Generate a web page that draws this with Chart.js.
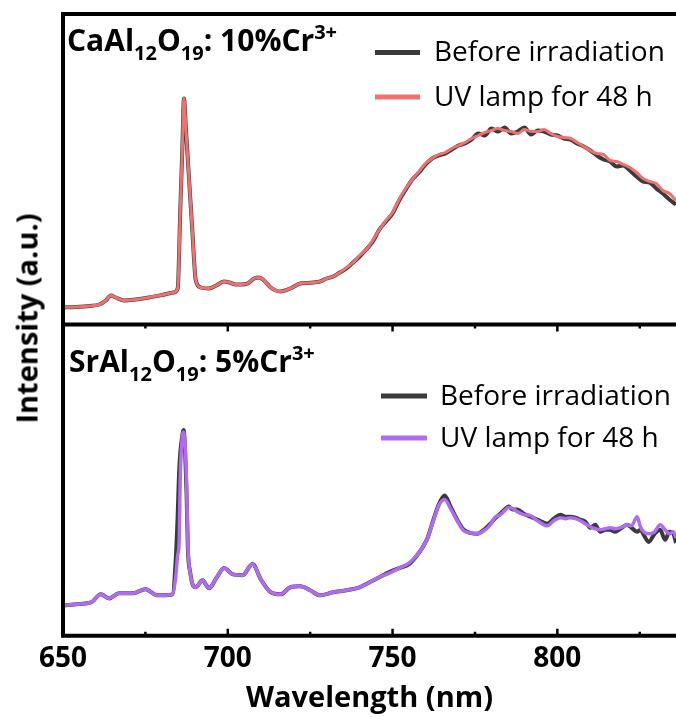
<!DOCTYPE html>
<html><head><meta charset="utf-8">
<script src="https://cdn.jsdelivr.net/npm/chart.js@4.4.1/dist/chart.umd.min.js"></script>
<style>
html,body{margin:0;padding:0;background:#fff;width:676px;height:717px;overflow:hidden;font-family:'Open Sans',sans-serif;}
#wrap{position:relative;width:676px;height:717px;}
canvas{position:absolute;left:0;}
#c1{top:0;}
#c2{top:320px;}
.ttl{position:absolute;font-weight:bold;font-size:30px;line-height:30px;white-space:nowrap;color:#000;}
.ttl .sb{font-size:20px;position:relative;top:9px;}
.ttl .sp{font-size:20px;position:relative;top:-12px;}
#ylab{position:absolute;width:300px;height:29px;left:-124.3px;top:303.5px;font-weight:bold;font-size:29px;line-height:29px;text-align:center;transform:rotate(-90deg);transform-origin:50% 50%;white-space:nowrap;color:#000;}
</style></head>
<body><div id="wrap">
<canvas id="c1" width="676" height="330"></canvas>
<canvas id="c2" width="676" height="397"></canvas>
<div class="ttl" style="left:67px;top:25.4px">CaAl<span class="sb">12</span>O<span class="sb">19</span>: 10%Cr<span class="sp">3+</span></div>
<div class="ttl" style="left:69px;top:346.4px">SrAl<span class="sb">12</span>O<span class="sb">19</span>: 5%Cr<span class="sp">3+</span></div>
<div id="ylab">Intensity (a.u.)</div>
</div>
<script>
// ---- data ----
const seriesLabels = ['Before irradiation', 'UV lamp for 48 h'];
const majorTicks = [650, 700, 750, 800];
const minorTicks = [675, 725, 775, 825];

const caWl = [650,654,658,661,663,664.5,666,668.5,672,676,680,683.6,684.8,685.6,686.2,686.7,687.3,688.2,689.2,690.3,691.8,694.2,696.5,698.8,700.5,702.4,704,706,708,709.5,711,713,716,719,722,724,726,728,730,732,734,736,738,740,742,744,746,748,750,752,754,756,758,760,762,764,766,768,770,772,774,776,778,780,782,784,786,788,790,792,794,796,798,800,802,804,806,808,810,812,814,816,818,820,822,824,826,828,830,832,834,836];
const caBefore = [17,17.5,18.5,20,24, 29,27,24,25,27, 29.5,32,36,116,175, 226,195,148,96,44, 37,36,39,43,42, 40,40,41,46,47, 44,37,33,36,41, 41.5,42,43,46,48, 52,56,62,68,75, 83,95,103,111,124, 135,145,152,160,166, 169,171,175,179,181, 185,191,189,196,193, 197,191,193,197,190, 194,193,190,189,186, 185,181,178,174,169, 165,163,158,159,154, 148,143,142,136,131, 125,120];
const caUV = [17,17.5,18.5,20,24, 29,27,24,25,27, 29.5,32,36,116,175, 226,195,148,96,44, 37,36,39,43,42, 40,40,41,46,47, 44,37,33,36,41, 41.5,42,43,46,48, 52,57,62,69,75, 84,95,104,112,125, 136,145,153,161,166, 170,172,176,179,182, 186,189,192,194,196, 194,193,191,195,193, 193,195,191,188,187, 186,182,178,174,171, 170,164,163,160,157, 152,146,143,141,134, 131,124];

const srWl = [650,655,658.5,661.5,664, 667,671,675,678.7,681, 683.2,684.2,684.8,685.2,685.6, 686.1,686.6,687.1,687.5,687.9, 688.6,689.3,690.3,692.3,694.3, 696.5,698.9,701.4,704.5,707.5, 710,713,716,719,722, 725,728,732,736,740, 743,746,749,752,755, 757.5,759,760.5,762.5,764, 765.8,767.6,769.6,771.6,773.6, 775.7,777.7,779.7,781,782.7, 784,785.2,786.5,787.8,789.8, 791.8,794,796.9,798.9,800.9, 802.5,803.9,805.5,807,808.5, 810,811.5,813,814.5,816, 817.5,819.1,820,821.1,822.5, 824.2,825.2,826.2,827.7,829.5, 831.2,832.7,834,835.2,836];
const srBefore = [30,31.5,33,41,37, 42,42,46,40,40, 41,75,120,160,182, 196,204,178,140,85, 63,51,48,55,47, 57,67,61,60,71, 56,43,41,48,49, 45,40,43,45,48, 53,58,63,67,71, 80,87,96,116,130, 139,128,115,105,102, 101,105,111,116,121, 125,128,125,125,121, 118,115,111,116,120, 118,118,117,115,113, 107,110,103,105,105, 103,106,108,110,107, 103,105,100,93,101, 105,95,103,101,92];
const srUV = [30,31.5,33,41,37, 42,42,46,40,40, 41,58,80,90,160, 193,202,185,150,90, 62,51,48,55,47, 57,67,61,60,71, 56,43,41,48,49, 45,40,43,45,48, 53,58,62,67,72, 80,87,96,115,129, 135,126,114,104,102, 101,104,110,117,120, 124,127,126,123,120, 119,114,109,114,117, 116,117,116,114,111, 108,106,105,106,107, 106,107,108,110,109, 118,108,103,101,103, 110,105,101,103,97];

const pts = (xs, ys) => xs.map((x, i) => ({x: x, y: ys[i]}));

// ---- plugins ----
const framePlugin = {
  id: 'frame',
  afterDraw(chart, args, o) {
    const ctx = chart.ctx, a = chart.chartArea, x = chart.scales.x;
    ctx.save();
    ctx.strokeStyle = '#000';
    ctx.lineWidth = 4;
    ctx.beginPath();
    ctx.moveTo(a.left, o.top ? a.top - 2 : a.top);
    ctx.lineTo(a.left, o.bottom ? a.bottom + 2 : a.bottom);
    if (o.top) { ctx.moveTo(a.left - 2, a.top); ctx.lineTo(chart.width, a.top); }
    if (o.bottom) { ctx.moveTo(a.left - 2, a.bottom); ctx.lineTo(chart.width, a.bottom); }
    ctx.stroke();
    if (o.ticks) {
      ctx.lineWidth = 2.5;
      ctx.beginPath();
      const draw = (vals, len) => vals.forEach(v => {
        const px = x.getPixelForValue(v);
        if (px <= a.left + 1 || px > chart.width) return;
        ctx.moveTo(px, a.top); ctx.lineTo(px, a.top + len);
        ctx.moveTo(px, a.bottom); ctx.lineTo(px, a.bottom - len);
      });
      draw(majorTicks, 7);
      draw(minorTicks, 4);
      ctx.stroke();
    }
    ctx.restore();
  }
};
const legendPlugin = {
  id: 'lg',
  afterDatasetsDraw(chart, args, o) {
    const ctx = chart.ctx;
    ctx.save();
    ctx.font = '28px "Open Sans"';
    ctx.textBaseline = 'middle';
    ctx.textAlign = 'left';
    chart.data.datasets.forEach((ds, i) => {
      const y = o.ys[i];
      ctx.strokeStyle = ds.borderColor;
      ctx.lineWidth = 5;
      ctx.beginPath(); ctx.moveTo(o.x0, y); ctx.lineTo(o.x1, y); ctx.stroke();
      ctx.fillStyle = '#000';
      ctx.fillText(ds.label, o.tx, y + 1);
    });
    ctx.restore();
  }
};

const common = {
  responsive: false, animation: false, events: [],
  elements: { point: { radius: 0 }, line: { cubicInterpolationMode: 'monotone' } }
};

new Chart(document.getElementById('c1'), {
  type: 'line',
  data: { datasets: [
    { label: seriesLabels[0], data: pts(caWl, caBefore), borderColor: '#3a3a3a', borderWidth: 4, order: 2 },
    { label: seriesLabels[1], data: pts(caWl, caUV), borderColor: '#f07070', borderWidth: 3, order: 1 }
  ]},
  options: Object.assign({}, common, {
    layout: { padding: { left: 63, top: 14, right: 0, bottom: 5.5 } },
    scales: {
      x: { type: 'linear', min: 650, max: 836, display: false },
      y: { min: 0, max: 310.5, display: false }
    },
    plugins: {
      legend: { display: false }, tooltip: { enabled: false },
      frame: { top: true, bottom: false, ticks: false },
      lg: { x0: 375, x1: 420, tx: 434, ys: [52.5, 97] }
    }
  }),
  plugins: [framePlugin, legendPlugin]
});

new Chart(document.getElementById('c2'), {
  type: 'line',
  data: { datasets: [
    { label: seriesLabels[0], data: pts(srWl, srBefore), borderColor: '#3a3a3a', borderWidth: 4, order: 2 },
    { label: seriesLabels[1], data: pts(srWl, srUV), borderColor: '#b06cf0', borderWidth: 3.5, order: 1 }
  ]},
  options: Object.assign({}, common, {
    layout: { padding: { left: 63, top: 4.5, right: 0, bottom: 1.6 } },
    scales: {
      x: {
        type: 'linear', min: 650, max: 836,
        grid: { display: false, drawTicks: false },
        border: { display: false },
        afterBuildTicks: s => { s.ticks = majorTicks.map(v => ({ value: v })); },
        ticks: { color: '#000', font: { family: 'Open Sans', size: 28, weight: 'bold', lineHeight: 1.1 }, padding: 8, maxRotation: 0, autoSkip: false, includeBounds: false },
        title: { display: true, text: 'Wavelength (nm)', color: '#000', font: { family: 'Open Sans', size: 29, weight: 'bold', lineHeight: 1.1 }, padding: { top: 0, bottom: 1 } }
      },
      y: { min: 0, max: 308.5, display: false }
    },
    plugins: {
      legend: { display: false }, tooltip: { enabled: false },
      frame: { top: true, bottom: true, ticks: true },
      lg: { x0: 381, x1: 427, tx: 440, ys: [76, 118] }
    }
  }),
  plugins: [framePlugin, legendPlugin]
});
</script>
</body></html>
